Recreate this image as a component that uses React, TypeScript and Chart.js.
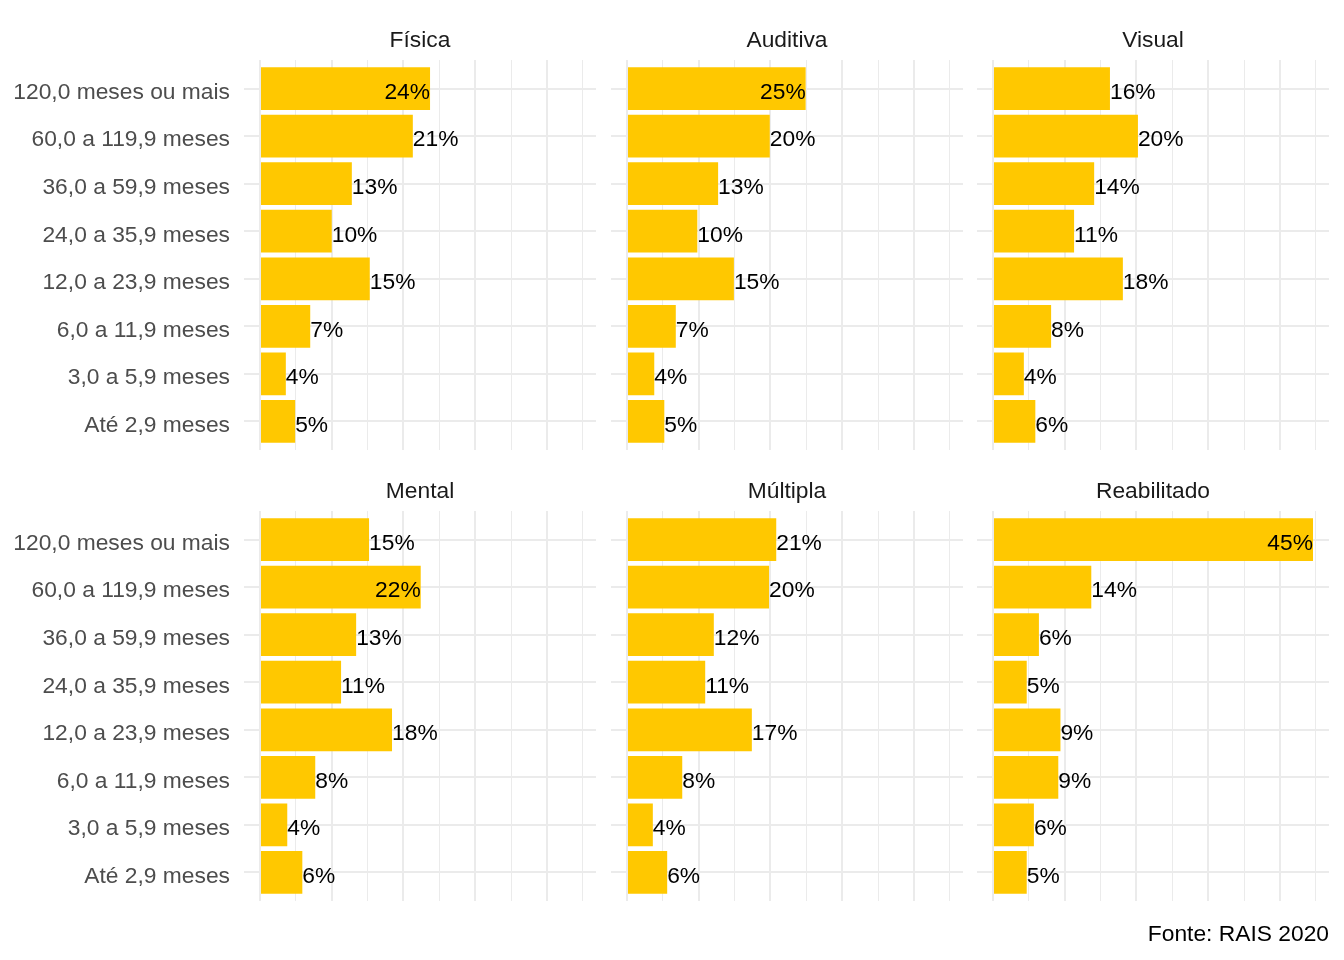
import React, { useEffect, useRef } from "react";
import { Chart, registerables } from "chart.js";

Chart.register(...registerables);

// ---------- data ----------
const categories = [
  "120,0 meses ou mais",
  "60,0 a 119,9 meses",
  "36,0 a 59,9 meses",
  "24,0 a 35,9 meses",
  "12,0 a 23,9 meses",
  "6,0 a 11,9 meses",
  "3,0 a 5,9 meses",
  "Até 2,9 meses",
];

const panelTitles = ["Física", "Auditiva", "Visual", "Mental", "Múltipla", "Reabilitado"];

const fisica = [23.7, 21.3, 12.8, 10.0, 15.3, 7.0, 3.6, 4.9];
const auditiva = [24.9, 19.9, 12.7, 9.8, 14.9, 6.8, 3.8, 5.2];
const visual = [16.3, 20.2, 14.1, 11.3, 18.1, 8.1, 4.3, 5.9];
const mental = [15.2, 22.4, 13.4, 11.3, 18.4, 7.7, 3.8, 5.9];
const multipla = [20.8, 19.8, 12.1, 10.9, 17.4, 7.7, 3.6, 5.6];
const reabilitado = [44.6, 13.7, 6.4, 4.7, 9.4, 9.1, 5.7, 4.7];

const panelValues = [fisica, auditiva, visual, mental, multipla, reabilitado];

const xGridTicks = [0, 5, 10, 15, 20, 25, 30, 35, 40, 45];

const captionText = "Fonte: RAIS 2020";

// ---------- style ----------
const FONT = "'Liberation Sans', Arial, Helvetica, sans-serif";
const FONT_SIZE = 22.8;
const BAR_COLOR = "#FFC800";
const GRID_COLOR = "#EBEBEB";
const INSIDE_THRESHOLD = 22;

const valueLabelPlugin = {
  id: "valueLabels",
  afterDatasetsDraw(chart: any) {
    const ctx = chart.ctx;
    const meta = chart.getDatasetMeta(0);
    const data = chart.data.datasets[0].data as { x: number; y: number }[];
    ctx.save();
    ctx.font = `${FONT_SIZE}px ${FONT}`;
    ctx.fillStyle = "#000000";
    ctx.textBaseline = "middle";
    meta.data.forEach((bar: any, i: number) => {
      const v = data[i].x;
      ctx.textAlign = v > INSIDE_THRESHOLD ? "right" : "left";
      ctx.fillText(`${Math.round(v)}%`, bar.x, bar.y + 4);
    });
    ctx.restore();
  },
};

type PanelProps = {
  idx: number;
  left: number;
  top: number;
  width: number;
  height: number;
  yAxisWidth: number;
  withCaption?: boolean;
};

function Panel({ idx, left, top, width, height, yAxisWidth, withCaption }: PanelProps) {
  const ref = useRef<HTMLCanvasElement>(null);

  useEffect(() => {
    if (!ref.current) return;
    const values = panelValues[idx];
    const xmax = Math.max(...panelValues.flat());
    const pad = xmax * 0.05;
    const showY = yAxisWidth > 0;

    const chart = new Chart(ref.current, {
      type: "bar",
      data: {
        datasets: [
          {
            data: values.map((v, i) => ({ x: v, y: i })),
            backgroundColor: BAR_COLOR,
            borderWidth: 0,
            barPercentage: 0.9,
            categoryPercentage: 1,
          },
        ],
      },
      options: {
        indexAxis: "y",
        responsive: false,
        animation: false,
        layout: { padding: 0, autoPadding: false },
        plugins: {
          legend: { display: false },
          tooltip: { enabled: false },
          title: {
            display: true,
            text: panelTitles[idx],
            color: "#1A1A1A",
            fullSize: false,
            font: { family: FONT, size: FONT_SIZE, weight: "normal", lineHeight: 1.2 },
            padding: { top: 27, bottom: 5.64 },
          },
          subtitle: withCaption
            ? {
                display: true,
                position: "bottom",
                align: "end",
                text: captionText,
                color: "#000000",
                font: { family: FONT, size: FONT_SIZE, weight: "normal", lineHeight: 1.2 },
                padding: { top: 20, bottom: 11.64 },
              }
            : { display: false },
        },
        scales: {
          x: {
            type: "linear",
            min: -pad,
            max: xmax + pad,
            afterBuildTicks: (s: any) => {
              s.ticks = xGridTicks.map((v) => ({ value: v }));
            },
            afterFit: (s: any) => {
              s.height = 0;
              s.paddingLeft = 0;
              s.paddingRight = 0;
              s.paddingTop = 0;
              s.paddingBottom = 0;
            },
            ticks: { display: false },
            grid: {
              color: GRID_COLOR,
              lineWidth: (c: any) => (c.tick && c.tick.value % 10 === 0 ? 2 : 1),
              drawTicks: false,
            },
            border: { display: false },
          },
          y: {
            type: "linear",
            reverse: true,
            offset: false,
            min: -0.6,
            max: categories.length - 0.4,
            afterBuildTicks: (s: any) => {
              s.ticks = categories.map((_, i) => ({ value: i }));
            },
            afterFit: (s: any) => {
              s.width = yAxisWidth;
              s.paddingLeft = 0;
              s.paddingRight = 0;
              s.paddingTop = 0;
              s.paddingBottom = 0;
            },
            ticks: {
              display: showY,
              autoSkip: false,
              padding: 14,
              labelOffset: 4,
              color: "#4D4D4D",
              font: { family: FONT, size: FONT_SIZE },
              callback: (v: any) => categories[v as number],
            },
            grid: { color: GRID_COLOR, lineWidth: 2, drawTicks: false, offset: false },
            border: { display: false },
          },
        },
      } as any,
      plugins: [valueLabelPlugin],
    });

    return () => chart.destroy();
  }, [idx, yAxisWidth, withCaption]);

  return (
    <canvas
      ref={ref}
      width={width}
      height={height}
      style={{ position: "absolute", left, top, width, height }}
    />
  );
}

const colLeft = [0, 611, 977];
const colWidth = [596, 352, 352];
const colYAxis = [244, 0, 0];
const rowTop = [0, 451];
const rowHeight = 450;

export default function App() {
  return (
    <div
      style={{
        position: "absolute",
        left: 0,
        top: 0,
        width: 1344,
        height: 960,
        background: "#FFFFFF",
        overflow: "hidden",
      }}
    >
      {panelTitles.map((_, idx) => {
        const r = Math.floor(idx / 3);
        const c = idx % 3;
        const isCaption = idx === 5;
        return (
          <Panel
            key={idx}
            idx={idx}
            left={colLeft[c]}
            top={rowTop[r]}
            width={colWidth[c]}
            height={isCaption ? 960 - rowTop[r] : rowHeight}
            yAxisWidth={colYAxis[c]}
            withCaption={isCaption}
          />
        );
      })}
    </div>
  );
}
